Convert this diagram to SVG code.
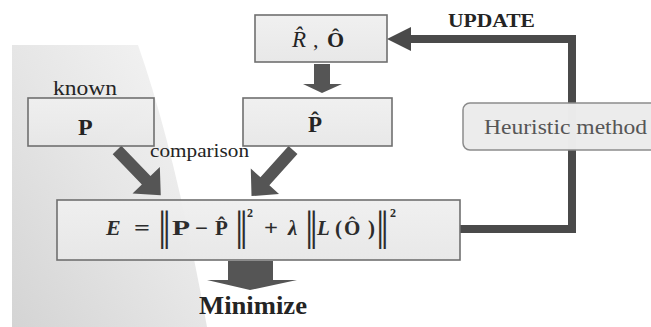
<svg xmlns="http://www.w3.org/2000/svg" width="651" height="327" viewBox="0 0 651 327">
<defs>
<linearGradient id="bg" x1="1" y1="0" x2="0" y2="1">
<stop offset="0" stop-color="#f6f6f6"/>
<stop offset="0.5" stop-color="#e6e6e6"/>
<stop offset="1" stop-color="#d4d4d4"/>
</linearGradient>
<linearGradient id="boxfill" x1="0" y1="0" x2="0" y2="1">
<stop offset="0" stop-color="#f0f0f0"/>
<stop offset="1" stop-color="#e8e8e8"/>
</linearGradient>
</defs>
<style>
.box{fill:url(#boxfill);stroke:#6e6e6e;stroke-width:1.6}
.t{font-family:'Liberation Serif',serif;fill:#222}
.b{font-weight:bold}
.i{font-style:italic}
.arrow{fill:#555}
.line{fill:none;stroke:#4a4a4a;stroke-width:8}
.eq{font-family:'Liberation Serif',serif;fill:#2a2a2a;font-weight:bold;font-size:21px}
.bar{font-family:'Liberation Serif',serif;fill:#2a2a2a;font-size:42px;letter-spacing:-4px}
.aa{opacity:0.99}
</style>
<rect width="651" height="327" fill="#fff"/>
<path d="M12,45 L138,45 Q175,150 207,327 L12,327 Z" fill="url(#bg)"/>

<g id="connectors">
<path class="line" d="M460,229 H572 V39 H409"/>
<polygon points="387,39 411,27 411,51" fill="#4a4a4a"/>
<polygon class="arrow" points="314,64 330,64 330,84 342,84 322,93 303,84 314,84"/>
<polygon class="arrow" transform="translate(117,150) rotate(46)" points="0,-6 42,-6 42,-19 63,0 42,19 42,6 0,6"/>
<polygon class="arrow" transform="translate(293,150) rotate(132)" points="0,-6 42,-6 42,-19 62,0 42,19 42,6 0,6"/>
<polygon class="arrow" points="228,261 273,261 273,280 297,280 250,290 207,280 228,280"/>
</g>

<g id="node-RO" class="aa">
<rect class="box" x="255" y="15" width="132" height="47"/>
<text class="t i" x="292" y="47" font-size="23">R̂</text>
<text class="t" x="313" y="47" font-size="22">,</text>
<text class="t b" x="327" y="47" font-size="22">Ô</text>
</g>

<g id="node-P" class="aa">
<text class="t" x="53" y="95" font-size="20" textLength="64" lengthAdjust="spacingAndGlyphs">known</text>
<rect class="box" x="28" y="98" width="126" height="48"/>
<text class="t b" x="78" y="135" font-size="24">P</text>
</g>

<g id="node-Phat" class="aa">
<rect class="box" x="243" y="98" width="149" height="48"/>
<text class="t b" x="308" y="132" font-size="23">P̂</text>
</g>

<g id="label-comparison" class="aa">
<text class="t" x="150" y="157" font-size="19" textLength="99" lengthAdjust="spacingAndGlyphs">comparison</text>
</g>

<g id="node-heuristic" class="aa">
<rect x="463" y="103" width="200" height="47" rx="7" ry="7" fill="#ececec" stroke="#8a8a8a" stroke-width="1.5"/>
<text class="t" x="484" y="134" font-size="21" style="fill:#555" textLength="163" lengthAdjust="spacingAndGlyphs">Heuristic method</text>
</g>

<g id="label-update" class="aa">
<text class="t b" x="448" y="27" font-size="18" textLength="87" lengthAdjust="spacingAndGlyphs">UPDATE</text>
</g>

<g id="node-equation" class="aa">
<rect class="box" x="57" y="200" width="403" height="60"/>
<text class="eq i" x="106" y="235" style="font-size:22px">E</text>
<text class="eq" x="134" y="235" textLength="16" lengthAdjust="spacingAndGlyphs">=</text>
<text class="bar" x="158" y="240">||</text>
<text class="eq" x="172" y="235" textLength="18" lengthAdjust="spacingAndGlyphs">P</text>
<text class="eq" x="195" y="235" textLength="13" lengthAdjust="spacingAndGlyphs">−</text>
<text class="eq" x="215" y="235">P̂</text>
<text class="bar" x="235" y="240">||</text>
<text class="eq" x="247" y="217" style="font-size:12px">2</text>
<text class="eq" x="264" y="235" textLength="14" lengthAdjust="spacingAndGlyphs">+</text>
<text class="eq i" x="288" y="235">λ</text>
<text class="bar" x="305" y="240">||</text>
<text class="eq i" x="317" y="235">L</text>
<text class="eq" x="335" y="235">(</text>
<text class="eq" x="344" y="235">Ô</text>
<text class="eq" x="368" y="235">)</text>
<text class="bar" x="376" y="240">||</text>
<text class="eq" x="390" y="217" style="font-size:12px">2</text>
</g>

<g id="label-minimize" class="aa">
<text class="t b" x="199" y="314" font-size="25" textLength="108" lengthAdjust="spacingAndGlyphs">Minimize</text>
</g>
</svg>
